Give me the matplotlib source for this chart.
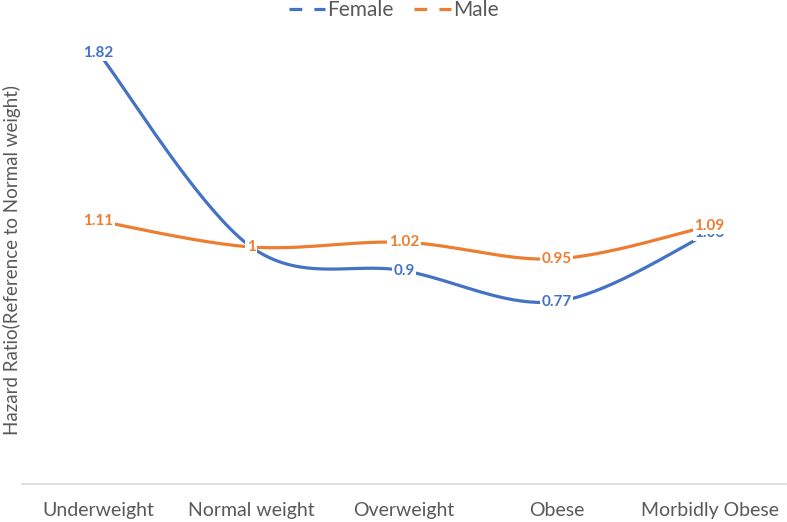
import numpy as np
import matplotlib
matplotlib.use("Agg")
import matplotlib.pyplot as plt
from matplotlib.lines import Line2D

categories = ["Underweight", "Normal weight", "Overweight", "Obese", "Morbidly Obese"]
female = [1.82, 1.0, 0.9, 0.77, 1.06]
male = [1.11, 1.0, 1.02, 0.95, 1.09]
series_names = ["Female", "Male"]

BLUE = "#4472C4"
ORANGE = "#ED7D31"
GRAY = "#595959"
FONT = "Lato"

plt.rcParams['font.family'] = [FONT, 'DejaVu Sans']


def smooth(xs, ys, n=40):
    """Catmull-Rom (Excel-style) smoothing through the given points."""
    xs = np.asarray(xs, float)
    ys = np.asarray(ys, float)
    P = np.column_stack([xs, ys])
    P = np.vstack([P[0], P, P[-1]])
    out = []
    t = np.linspace(0, 1, n)
    for i in range(1, len(P) - 2):
        p0, p1, p2, p3 = P[i - 1], P[i], P[i + 1], P[i + 2]
        c1 = p1 + (p2 - p0) / 6
        c2 = p2 - (p3 - p1) / 6
        b = ((1 - t) ** 3)[:, None] * p1 + (3 * (1 - t) ** 2 * t)[:, None] * c1 \
            + (3 * (1 - t) * t ** 2)[:, None] * c2 + (t ** 3)[:, None] * p2
        out.append(b if i == 1 else b[1:])
    out = np.vstack(out)
    return out[:, 0], out[:, 1]


W, H = 787, 522
fig = plt.figure(figsize=(W / 100, H / 100), dpi=100)
ax_left, ax_right, ax_top, ax_bottom = 22, 786, 10, 484
ax = fig.add_axes([ax_left / W, 1 - ax_bottom / H, (ax_right - ax_left) / W, (ax_bottom - ax_top) / H])

x = np.arange(len(categories))
for vals, color, name in [(female, BLUE, "Female"), (male, ORANGE, "Male")]:
    sx, sy = smooth(x, vals)
    ax.plot(sx, sy, color=color, lw=2.3, solid_capstyle="butt", zorder=2)

for z, (vals, color) in enumerate([(female, BLUE), (male, ORANGE)]):
    for xi, v in zip(x, vals):
        ax.text(xi, v, f"{v:g}", color=color, fontsize=11, fontweight="bold",
                ha="center", va="center", zorder=3 + z,
                bbox=dict(facecolor="white", edgecolor="none", pad=1.0))

ax.set_xlim(-0.5, len(categories) - 0.5)
ax.set_ylim(0, 2)
ax.set_xticks(x)
ax.set_xticklabels(categories, fontsize=14, color=GRAY)
ax.tick_params(axis="x", length=0, pad=13)
ax.set_yticks([])
for s in ["top", "right", "left"]:
    ax.spines[s].set_visible(False)
ax.spines["bottom"].set_color("#D9D9D9")
ax.spines["bottom"].set_linewidth(1.2)

fig.text(12 / W, 1 - 260 / H, "Hazard Ratio(Reference to Normal weight)", rotation=90,
         ha="center", va="center", fontsize=13.5, color=GRAY)

handles = [Line2D([0], [0], color=BLUE, lw=2.3, ls=(0, (4, 3.8))),
           Line2D([0], [0], color=ORANGE, lw=2.3, ls=(0, (4, 3.8)))]
leg = fig.legend(handles, series_names, loc="center", bbox_to_anchor=(0.5, 1 - 10 / H),
                 ncol=2, frameon=False, fontsize=15, handlelength=1.75, columnspacing=1.0,
                 handletextpad=0.1, labelcolor=GRAY)

fig.savefig("out.png", dpi=100)
